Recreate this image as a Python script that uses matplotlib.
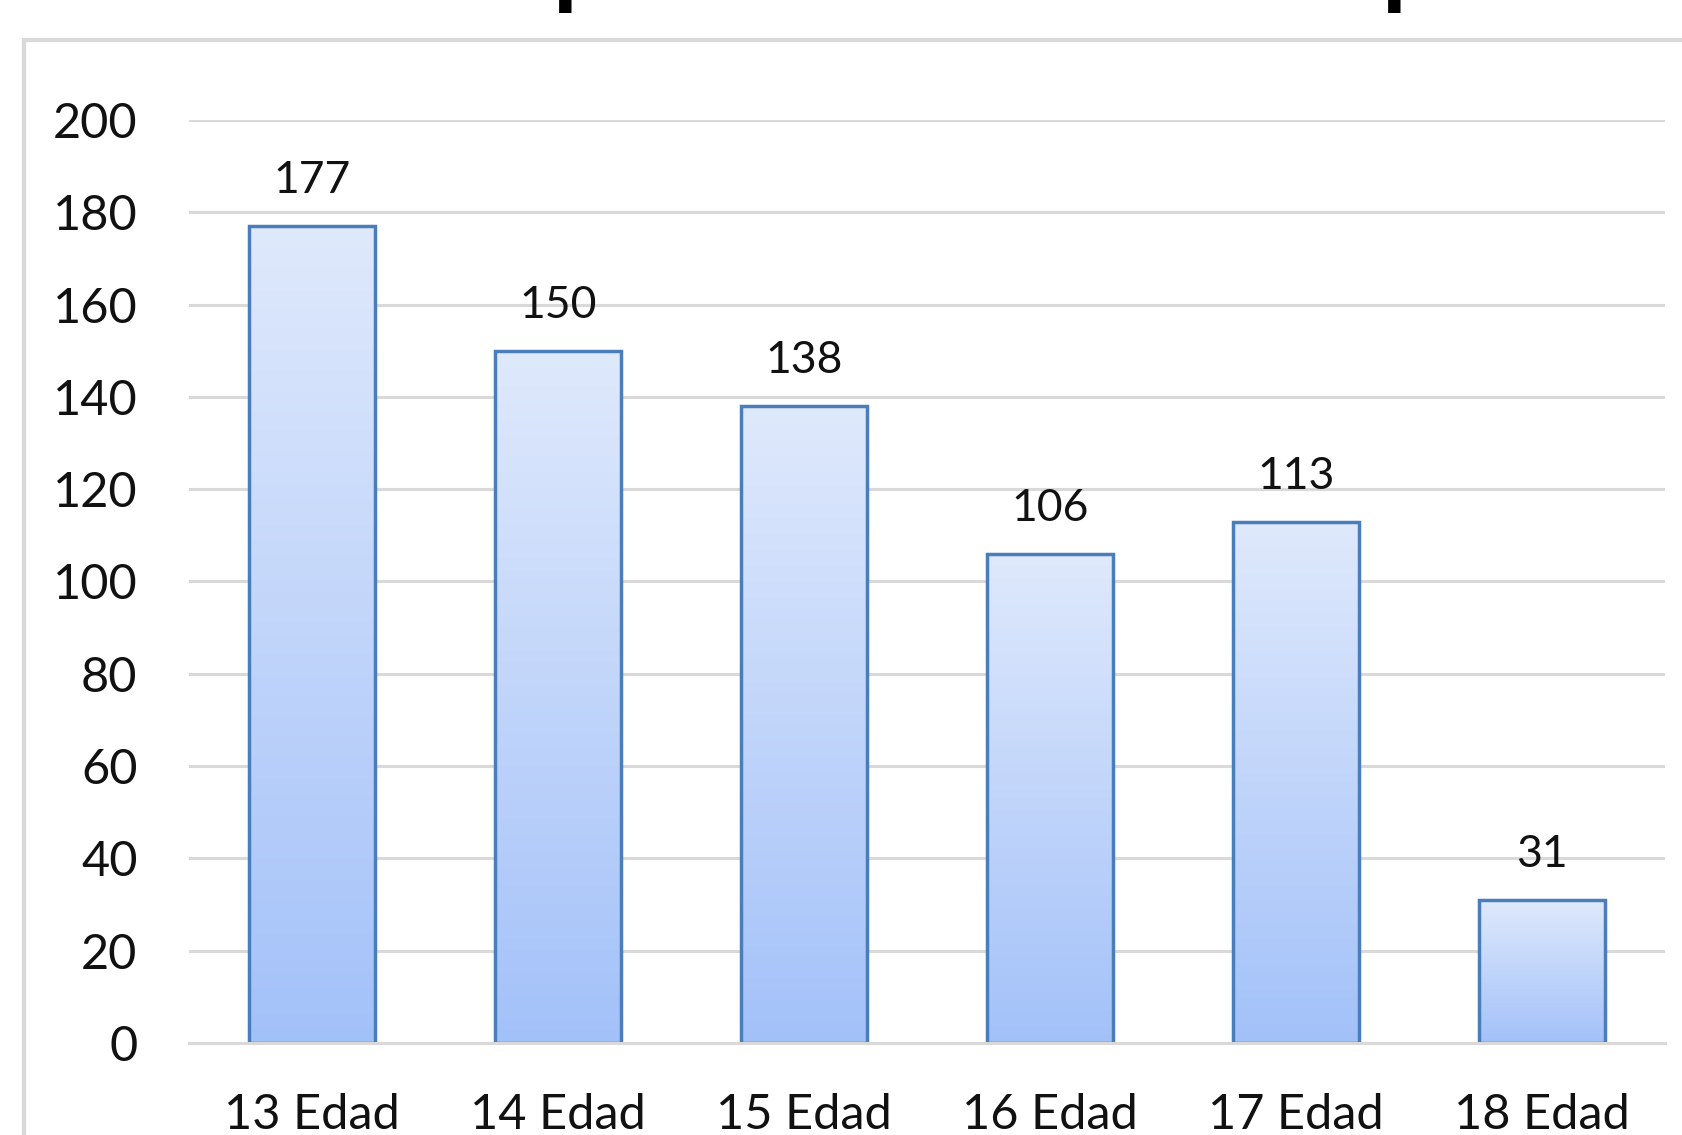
import numpy as np
import matplotlib
matplotlib.use("Agg")
import matplotlib.pyplot as plt
from matplotlib.colors import LinearSegmentedColormap
from matplotlib.patches import Rectangle

categories = ["13 Edad", "14 Edad", "15 Edad", "16 Edad", "17 Edad", "18 Edad"]
values = [177, 150, 138, 106, 113, 31]
yticks = [0, 20, 40, 60, 80, 100, 120, 140, 160, 180, 200]

plt.rcParams['font.family'] = ['Lato', 'DejaVu Sans']

W, H = 1682, 1135
fig = plt.figure(figsize=(W / 100, H / 100), dpi=100)
fig.patch.set_facecolor("white")

# outer chart border (extends past right/bottom edges)
fig.patches.append(Rectangle((24 / W, -0.1), 1.2, 1 - 40 / H + 0.1,
                             transform=fig.transFigure, fill=False,
                             edgecolor="#d9d9d9", linewidth=3))

# cropped title: only descenders visible
for xp in [581, 1410]:
    fig.text(xp / W, 1 + 4 / H, "p", fontsize=72, fontweight="bold",
             ha="center", va="baseline", color="black")

ax = fig.add_axes([189 / W, (H - 1043) / H, (1665 - 189) / W, (1043 - 120) / H])
ax.set_facecolor("none")
x = np.arange(len(categories))
width = 0.51

cmap = LinearSegmentedColormap.from_list("g", ["#a3c1f9", "#dfe9fc"])
grad = np.linspace(0, 1, 256).reshape(-1, 1)
bars = ax.bar(x, values, width=width, facecolor="none", edgecolor="#4a7ebb",
              linewidth=2.5, zorder=3)
for b, v in zip(bars, values):
    x0 = b.get_x()
    im = ax.imshow(grad, cmap=cmap, origin="lower", aspect="auto",
                   extent=(x0, x0 + b.get_width(), 0, v), zorder=2.5)
    im.set_clip_path(b)
    ax.annotate(str(v), (b.get_x() + b.get_width() / 2, v), xytext=(0, 18),
                textcoords="offset points", ha="center", va="bottom",
                fontsize=32, color="#111111")

ax.set_xlim(-0.5, len(categories) - 0.5)
ax.set_ylim(0, 200)
ax.set_yticks(yticks)
ax.set_xticks(x)
ax.set_xticklabels(categories)
ax.tick_params(axis="both", length=0, labelsize=35, colors="#111111")
ax.tick_params(axis="x", pad=36)
ax.tick_params(axis="y", pad=37)
ax.yaxis.grid(True, color="#d9d9d9", linewidth=2.2, zorder=0)
ax.set_axisbelow(True)
for s in ["top", "right", "left"]:
    ax.spines[s].set_visible(False)
ax.spines["bottom"].set_color("#d9d9d9")
ax.spines["bottom"].set_linewidth(2.2)
ax.spines["bottom"].set_zorder(4)

fig.savefig("out.png", dpi=100)
